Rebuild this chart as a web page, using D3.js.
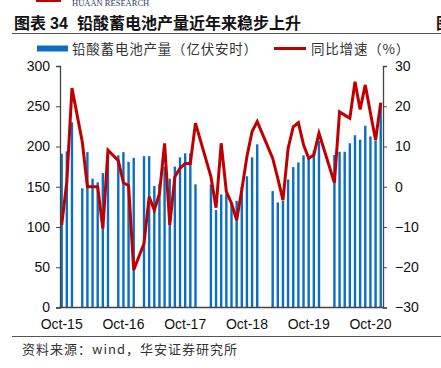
<!DOCTYPE html>
<html>
<head>
<meta charset="utf-8">
<script src="https://cdn.jsdelivr.net/npm/d3@7"></script>
<style>
  body { margin: 0; background: #fff; }
  text { font-family: "Liberation Sans", Arial, sans-serif; }
  .cjk { font-family: "Noto Sans CJK SC", sans-serif; }
</style>
</head>
<body>
<div id="chart"></div>
<script>
// months that have data (Jan / Feb gaps are not reported)
var months = ["2015-10","2015-11","2015-12","2016-02","2016-03","2016-04","2016-05","2016-06","2016-07",
  "2016-09","2016-10","2016-11","2016-12","2017-02","2017-03","2017-04","2017-05","2017-06","2017-07",
  "2017-08","2017-09","2017-10","2017-11","2017-12","2018-03","2018-04","2018-05","2018-06","2018-07",
  "2018-08","2018-09","2018-10","2018-11","2018-12","2019-03","2019-04","2019-05","2019-06","2019-07",
  "2019-08","2019-09","2019-10","2019-11","2019-12","2020-03","2020-04","2020-05","2020-06","2020-07",
  "2020-08","2020-09","2020-10","2020-11","2020-12"];
// 铅酸蓄电池产量 (亿伏安时)
var output = [191,194,230,148,193,160,155.5,167,188,
  189,193,181,186,188,188,151,153,175,160,
  175,186.5,191.5,191.5,153,153,121,140.5,141.7,129.3,
  132.6,150,163,186.5,202.7,144.6,130.5,132.6,159,174.4,
  180.3,189,186,195,207,189.4,193.5,193.5,204,214,
  208.5,225.8,212.5,207.5,251];
// 同比增速 (%)
var growth = [-9.5,1.2,24.5,11.2,0,0,0,-10.4,9.1,
  6.5,1,0.3,-20.7,-14.1,-2.5,-5.8,-1.7,10.8,-9.5,
  2.5,4.6,5.8,5.8,15.8,2.5,-5.2,10.8,-1.2,-4.1,
  -8.3,-0.8,7.5,13.7,16.2,7.1,2.1,-3.3,9.5,14.9,
  15.9,10.4,7.1,7.9,13.3,1.0,18.6,17.8,17,26.1,
  19.2,25.3,18.3,11.6,20.9];
var tickMonths = ["2015-10","2016-10","2017-10","2018-10","2019-10","2020-10"];
var leftTicks = [0,50,100,150,200,250,300];
var rightTicks = [-30,-20,-10,0,10,20,30];

var fmt = d3.timeFormat("%Y-%m");
var allMonths = d3.timeMonth.range(new Date(2015, 9, 1), new Date(2021, 0, 1)).map(fmt);

var svg = d3.select("#chart").append("svg")
  .attr("width", 441)
  .attr("height", 368);

// header
svg.append("rect").attr("x", 36).attr("y", 0).attr("width", 25).attr("height", 2).attr("fill", "#c00000");
svg.append("text").attr("x", 72).attr("y", 5.5)
  .style("font-family", "'Liberation Serif', serif").style("font-size", "8.5px")
  .attr("fill", "#2f3d66").text("HUAAN RESEARCH");
var title = svg.append("text").attr("class", "cjk").attr("y", 28.5)
  .style("font-size", "16px").style("font-weight", "bold").attr("fill", "#111");
title.append("tspan").attr("x", 14).text("图表");
title.append("tspan").attr("x", 50).style("font-family", "'Liberation Sans', Arial, sans-serif").text("34");
title.append("tspan").attr("x", 77).text("铅酸蓄电池产量近年来稳步上升");
svg.append("text").attr("class", "cjk").attr("x", 436).attr("y", 28.5)
  .style("font-size", "16px").style("font-weight", "bold").attr("fill", "#111").text("图");
svg.append("line").attr("x1", 12).attr("x2", 441).attr("y1", 33.5).attr("y2", 33.5)
  .attr("stroke", "#555").attr("stroke-width", 1);

// legend
svg.append("rect").attr("x", 37).attr("y", 45.5).attr("width", 31).attr("height", 6).attr("fill", "#0a6fc2");
svg.append("text").attr("class", "cjk").attr("x", 72).attr("y", 54)
  .style("font-size", "13.5px").style("letter-spacing", "0.8px").attr("fill", "#333")
  .text("铅酸蓄电池产量（亿伏安时）");
svg.append("line").attr("x1", 274).attr("x2", 306).attr("y1", 48.5).attr("y2", 48.5)
  .attr("stroke", "#c00000").attr("stroke-width", 3);
svg.append("text").attr("class", "cjk").attr("x", 311).attr("y", 54)
  .style("font-size", "13.5px").style("letter-spacing", "0.8px").attr("fill", "#333").text("同比增速（%）");

// scales
var x = d3.scaleBand().domain(allMonths).range([59.1, 383.3]).padding(0);
var yL = d3.scaleLinear().domain([0, 300]).range([307.5, 66]);
var yR = d3.scaleLinear().domain([-30, 30]).range([307.5, 66]);
var cx = function(m) { return x(m) + x.bandwidth() / 2; };

var data = months.map(function(m, i) { return {m: m, v: output[i], g: growth[i]}; });

// bars
svg.append("g").selectAll("rect")
  .data(data)
  .enter().append("rect")
  .attr("x", function(d) { return cx(d.m) - 1.2; })
  .attr("width", 2.4)
  .attr("y", function(d) { return yL(d.v); })
  .attr("height", function(d) { return yL(0) - yL(d.v); })
  .attr("fill", "#0a6fc2");

// growth line
var line = d3.line()
  .x(function(d) { return cx(d.m); })
  .y(function(d) { return yR(d.g); });
svg.append("path")
  .datum(data)
  .attr("d", line)
  .attr("fill", "none")
  .attr("stroke", "#c00000")
  .attr("stroke-width", 3);

// axes
var axL = svg.append("g").attr("transform", "translate(60,0)")
  .call(d3.axisLeft(yL).tickValues(leftTicks).tickSize(4).tickPadding(6));
var axR = svg.append("g").attr("transform", "translate(383,0)")
  .call(d3.axisRight(yR).tickValues(rightTicks).tickSize(4).tickPadding(8));
var axB = svg.append("g").attr("transform", "translate(0,307.5)")
  .call(d3.axisBottom(x).tickValues(tickMonths).tickSize(0).tickPadding(12)
    .tickFormat(function(m) { return d3.timeFormat("%b-%y")(d3.timeParse("%Y-%m")(m)); }));
axB.select(".domain").attr("d", "M59,0H384");

[axL, axR, axB].forEach(function(a) {
  a.selectAll("text").style("font-size", "14px").style("font-family", "'Liberation Sans', Arial, sans-serif").attr("fill", "#111");
  a.selectAll("line").attr("stroke", "#444");
  a.select(".domain").attr("stroke", "#444").attr("stroke-width", 1.3);
});

// footer
svg.append("line").attr("x1", 12).attr("x2", 441).attr("y1", 336.5).attr("y2", 336.5)
  .attr("stroke", "#555").attr("stroke-width", 1);
svg.append("text").attr("class", "cjk").attr("x", 22).attr("y", 354)
  .style("font-size", "13px").style("letter-spacing", "1px").attr("fill", "#333")
  .text("资料来源：wind，华安证券研究所");
</script>
</body>
</html>
